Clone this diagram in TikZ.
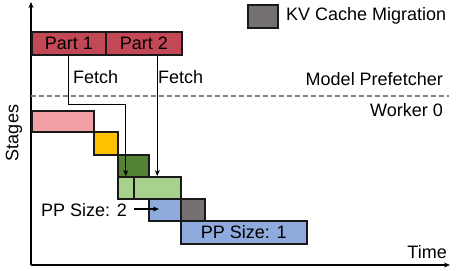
\documentclass[tikz,border=0pt]{standalone}
\usepackage{fontspec}
\setmainfont{Liberation Sans}
\usetikzlibrary{arrows.meta}
\definecolor{partred}{RGB}{195,72,86}
\definecolor{pinkc}{RGB}{241,160,165}
\definecolor{yellowc}{RGB}{255,192,0}
\definecolor{dgreen}{RGB}{84,130,53}
\definecolor{lgreen}{RGB}{169,209,142}
\definecolor{bluec}{RGB}{143,170,220}
\definecolor{grayc}{RGB}{118,113,113}
\definecolor{dashc}{RGB}{128,128,128}
\tikzset{
  bar/.style={draw=black!90, line width=1.6pt, anchor=north west, inner sep=0pt, font=\fontsize{18}{20}\selectfont},
  lbl/.style={font=\fontsize{18}{20}\selectfont, inner sep=0pt},
  conn/.style={line width=1.3pt, -{Stealth[length=6pt,width=5pt]}},
  axis/.style={line width=1.6pt, -{Stealth[length=6pt,width=5pt]}}
}
\begin{document}
\begin{tikzpicture}[x=1pt,y=-1pt]
\useasboundingbox (0,0) rectangle (459,271);
% axes
\coordinate (o) at (31,265);
\coordinate (ytop) at (31,2);
\coordinate (xend) at (450,265);
\draw[axis] (o) -- (ytop);
\draw[axis] (o) -- (xend);
\node[lbl, rotate=90] (stages) at (14,133) {Stages};
\node[lbl, anchor=east] (time) at (447,252) {Time};
% legend
\node[bar, fill=grayc, minimum width=30, minimum height=23] (leg) at (247,4) {};
\node[lbl, anchor=west] (legt) at (286,15.5) {KV Cache Migration};
% model prefetcher
\node[bar, fill=partred, minimum width=74, minimum height=23] (p1) at (31,31) {Part 1};
\node[bar, fill=partred, minimum width=76, minimum height=23] (p2) at (105,31) {Part 2};
\coordinate (dl) at (31,96);
\coordinate (dr) at (449,96);
\draw[dashc, line width=1.3pt, dash pattern=on 5pt off 3pt] (dl) -- (dr);
\node[lbl, anchor=east] (mp) at (443,79) {Model Prefetcher};
\node[lbl, anchor=east] (w0) at (443,110) {Worker 0};
% worker bars
\node[bar, fill=pinkc, minimum width=62, minimum height=21] (pk) at (31,110) {};
\node[bar, fill=yellowc, minimum width=24, minimum height=23] (ye) at (93,131) {};
\node[bar, fill=dgreen, minimum width=31, minimum height=22] (dg) at (117,154) {};
\node[bar, fill=lgreen, minimum width=16, minimum height=22] (lg1) at (117,176) {};
\node[bar, fill=lgreen, minimum width=47, minimum height=22] (lg2) at (133,176) {};
\node[bar, fill=bluec, minimum width=32, minimum height=22] (b1) at (148,198) {};
\node[bar, fill=grayc, minimum width=24, minimum height=22] (gr) at (180,198) {};
\node[bar, fill=bluec, minimum width=126, minimum height=23] (b2) at (180,220) {PP Size: 1};
% fetch connectors
\draw[conn] (p1.south) -- ++(0,49) -| (lg1.north);
\draw[conn] (p2.south -| lg2.north) -- (lg2.north);
\node[lbl, anchor=west] (f1) at (73,77) {Fetch};
\node[lbl, anchor=west] (f2) at (158,77) {Fetch};
% PP size 2
\node[lbl, anchor=east] (pp2) at (127,210) {PP Size: 2};
\coordinate (pp2tip) at (159,209);
\draw[conn] (pp2.east) ++(7,-1) -- (pp2tip);
\end{tikzpicture}
\end{document}
